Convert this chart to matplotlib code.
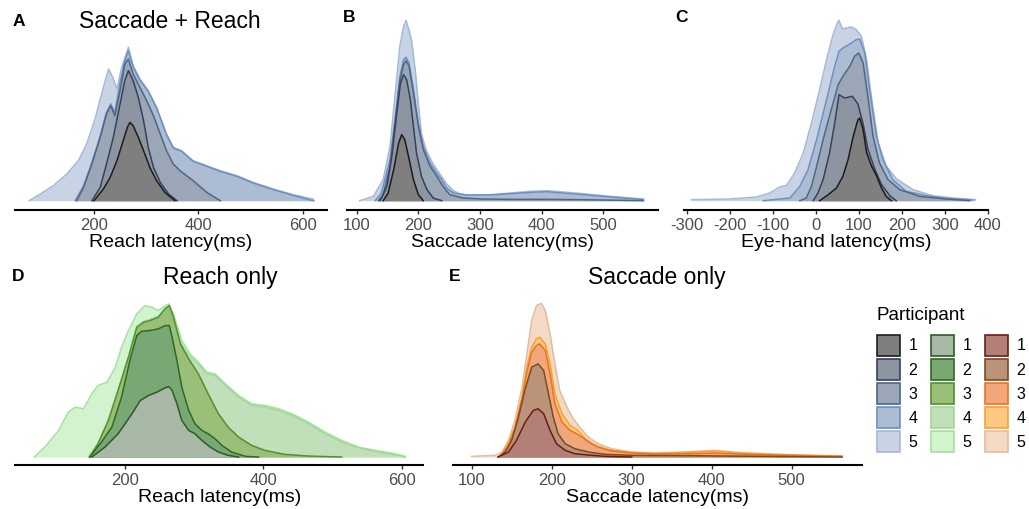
import matplotlib
matplotlib.use('Agg')
import matplotlib.pyplot as plt
from matplotlib.patches import Rectangle

plt.rcParams['font.family'] = ['Liberation Sans', 'DejaVu Sans']
plt.rcParams['axes.unicode_minus'] = False

# stacked density tops per participant (latency in ms, density in arbitrary units)
# --- A: Saccade + Reach, reach latency
A1_MS = [200, 218, 231, 244, 256, 264, 269, 275, 285, 295, 307, 320, 336, 355]
A1_DEN = [0, 0.35, 0.70, 1.20, 1.80, 2.20, 2.35, 2.25, 1.90, 1.50, 1.00, 0.60, 0.25, 0]
A2_MS = [196, 212, 224, 237, 250, 259, 266, 275, 285, 295, 304, 314, 327, 343, 359]
A2_DEN = [0, 0.40, 1.10, 1.90, 2.90, 3.60, 3.90, 3.60, 3.10, 2.40, 1.60, 1.00, 0.55, 0.20, 0]
A3_MS = [167, 180, 196, 212, 224, 232, 240, 250, 259, 266, 275, 288, 301, 314, 327, 339, 352, 365, 390, 416, 442]
A3_DEN = [0, 0.40, 1.10, 1.90, 2.60, 2.85, 2.55, 3.30, 4.10, 4.25, 3.80, 3.40, 3.00, 2.55, 2.00, 1.50, 1.10, 0.90, 0.60, 0.25, 0]
A4_MS = [164, 180, 196, 212, 224, 232, 240, 250, 259, 266, 275, 288, 304, 320, 339, 352, 368, 390, 416, 442, 474, 505, 544, 582, 620]
A4_DEN = [0, 0.45, 1.15, 1.95, 2.65, 2.90, 2.65, 3.55, 4.20, 4.50, 4.02, 3.62, 3.28, 2.78, 1.98, 1.58, 1.48, 1.18, 1.03, 0.88, 0.73, 0.53, 0.33, 0.16, 0]
A5_MS = [76, 97, 122, 148, 170, 186, 202, 218, 228, 236, 244, 253, 266, 275, 288, 304, 320, 339, 352, 368, 390, 416, 442, 474, 505, 544, 582, 620, 622]
A5_DEN = [0, 0.20, 0.45, 0.80, 1.20, 1.70, 2.45, 3.40, 3.95, 3.70, 3.35, 4.00, 4.60, 4.05, 3.65, 3.30, 2.80, 2.00, 1.60, 1.50, 1.20, 1.05, 0.90, 0.75, 0.55, 0.35, 0.18, 0.05, 0]

# --- B: Saccade + Reach, saccade latency
B1_MS = [143, 151, 160, 168, 173, 178, 184, 192, 200, 208]
B1_DEN = [0, 0.23, 0.93, 1.73, 1.98, 1.83, 1.33, 0.63, 0.18, 0]
B2_MS = [138, 149, 157, 165, 171, 176, 181, 187, 192, 197, 205, 214, 224, 238]
B2_DEN = [0, 0.43, 1.33, 2.63, 3.53, 3.78, 3.63, 3.03, 2.23, 1.43, 0.73, 0.33, 0.08, 0]
B3_MS = [135, 143, 154, 162, 170, 176, 180, 185, 192, 200, 208, 219, 230, 240, 251, 273, 305, 349, 408, 468, 565]
B3_DEN = [0, 0.18, 1.03, 2.30, 3.60, 4.08, 4.20, 4.03, 3.23, 2.23, 1.53, 1.03, 0.73, 0.43, 0.18, 0.08, 0.05, 0.04, 0.04, 0.03, 0]
B4_MS = [130, 140, 154, 162, 170, 176, 180, 185, 192, 200, 208, 219, 230, 238, 246, 257, 278, 316, 349, 381, 408, 435, 468, 500, 532, 565]
B4_DEN = [0, 0.23, 1.23, 2.43, 3.73, 4.23, 4.30, 4.13, 3.33, 2.33, 1.63, 1.13, 0.83, 0.63, 0.38, 0.23, 0.17, 0.17, 0.21, 0.25, 0.27, 0.23, 0.18, 0.13, 0.08, 0.03]
B5_MS = [105, 127, 143, 154, 162, 170, 176, 180, 185, 189, 195, 200, 205, 213, 224, 235, 246, 257, 268, 278, 316, 349, 381, 408, 435, 468, 500, 532, 565]
B5_DEN = [0, 0.13, 0.63, 1.63, 3.13, 4.63, 5.23, 5.41, 5.10, 4.80, 3.90, 2.90, 2.00, 1.50, 1.10, 0.80, 0.50, 0.30, 0.20, 0.18, 0.18, 0.23, 0.28, 0.30, 0.26, 0.21, 0.15, 0.10, 0.05]

# --- C: Saccade + Reach, eye-hand latency
C1_MS = [9, 29, 48, 63, 75, 87, 98, 102, 110, 118, 129, 141, 152, 164, 176]
C1_DEN = [0, 0.18, 0.38, 0.73, 1.23, 1.93, 2.43, 2.48, 2.13, 1.45, 1.05, 0.75, 0.40, 0.12, 0]
C2_MS = [-6, 5, 17, 32, 44, 54, 67, 85, 98, 110, 121, 137, 152, 172, 187]
C2_DEN = [0, 0.23, 0.63, 1.43, 2.33, 3.18, 3.08, 3.13, 2.90, 2.30, 1.55, 0.95, 0.50, 0.15, 0]
C3_MS = [-37, -22, -10, 2, 17, 36, 52, 63, 79, 90, 100, 110, 121, 133, 148, 168, 195, 241, 303, 357]
C3_DEN = [0, 0.08, 0.43, 1.03, 1.83, 2.73, 3.48, 3.73, 4.03, 4.33, 4.43, 4.13, 3.13, 1.93, 1.13, 0.63, 0.33, 0.13, 0.05, 0]
C4_MS = [-122, -60, -37, -18, 2, 25, 44, 54, 63, 79, 94, 102, 114, 125, 141, 156, 179, 210, 257, 303, 365]
C4_DEN = [0, 0.08, 0.43, 0.93, 1.83, 3.03, 4.03, 4.48, 4.58, 4.70, 4.83, 4.85, 4.43, 3.33, 1.93, 1.23, 0.63, 0.28, 0.15, 0.07, 0.02]
C5_MS = [-289, -200, -138, -107, -84, -68, -49, -29, -10, 9, 25, 39, 50, 54, 62, 71, 83, 94, 106, 118, 129, 145, 164, 187, 226, 272, 319, 371]
C5_DEN = [0.03, 0.05, 0.11, 0.23, 0.41, 0.46, 0.83, 1.43, 2.33, 3.33, 4.23, 4.93, 5.33, 5.41, 5.15, 5.18, 5.21, 5.13, 4.93, 4.23, 3.13, 1.73, 1.03, 0.66, 0.33, 0.15, 0.08, 0.03]

# --- D: Reach only
D1_MS = [152, 171, 190, 210, 222, 234, 246, 255, 263, 268, 275, 282, 292, 301, 311, 323, 335, 349, 364]
D1_DEN = [0, 0.30, 0.70, 1.30, 1.70, 1.85, 1.95, 2.05, 2.12, 2.00, 1.60, 1.10, 0.80, 0.70, 0.50, 0.30, 0.15, 0.05, 0]
D2_MS = [149, 166, 181, 195, 207, 217, 224, 236, 248, 258, 264, 268, 275, 282, 292, 301, 311, 320, 330, 340, 354, 374, 393]
D2_DEN = [0, 0.45, 0.90, 1.80, 2.90, 3.65, 3.78, 3.80, 3.85, 3.95, 3.95, 3.60, 2.90, 2.10, 1.40, 1.00, 0.80, 0.70, 0.55, 0.35, 0.15, 0.02, 0]
D3_MS = [149, 161, 176, 190, 205, 217, 227, 236, 248, 258, 264, 270, 280, 292, 306, 320, 335, 349, 364, 383, 402, 431, 465, 513]
D3_DEN = [0, 0.40, 1.10, 2.00, 3.00, 3.90, 4.05, 4.10, 4.20, 4.45, 4.55, 4.20, 3.40, 2.95, 2.50, 1.90, 1.30, 0.90, 0.60, 0.35, 0.20, 0.08, 0.03, 0]
D4_MS = [147, 161, 176, 190, 205, 217, 227, 236, 248, 258, 264, 270, 280, 292, 306, 318, 330, 345, 364, 383, 402, 422, 441, 465, 489, 513, 537, 561, 586, 605]
D4_DEN = [0, 0.42, 1.13, 2.03, 3.03, 3.93, 4.08, 4.13, 4.23, 4.48, 4.55, 4.25, 3.45, 3.05, 2.80, 2.52, 2.45, 2.15, 1.80, 1.55, 1.50, 1.40, 1.25, 1.00, 0.70, 0.45, 0.28, 0.17, 0.08, 0]
D5_MS = [69, 84, 104, 118, 128, 140, 152, 161, 174, 186, 195, 205, 217, 229, 239, 248, 255, 263, 270, 282, 294, 306, 318, 330, 345, 364, 383, 402, 422, 441, 465, 489, 513, 537, 561, 586, 605]
D5_DEN = [0, 0.30, 0.80, 1.35, 1.50, 1.45, 1.90, 2.15, 2.25, 2.70, 3.30, 3.80, 4.30, 4.55, 4.50, 4.40, 4.50, 4.60, 4.30, 3.50, 3.10, 2.85, 2.55, 2.50, 2.20, 1.85, 1.60, 1.55, 1.45, 1.30, 1.05, 0.75, 0.50, 0.30, 0.20, 0.12, 0.02]

# --- E: Saccade only
E1_MS = [133, 146, 156, 167, 177, 183, 190, 198, 206, 217, 229, 246, 267, 300]
E1_DEN = [0, 0.15, 0.50, 1.05, 1.40, 1.45, 1.30, 0.80, 0.40, 0.20, 0.10, 0.06, 0.02, 0]
E2_MS = [133, 142, 150, 158, 167, 175, 183, 190, 196, 202, 208, 217, 229, 246, 267, 300, 371, 563]
E2_DEN = [0, 0.15, 0.50, 1.15, 2.05, 2.70, 2.80, 2.60, 1.90, 1.20, 0.70, 0.40, 0.25, 0.15, 0.08, 0.05, 0.04, 0]
E3_MS = [138, 146, 154, 163, 169, 175, 181, 185, 192, 198, 204, 213, 223, 231, 238, 246, 258, 275, 300, 329, 371, 404, 433, 475, 517, 563]
E3_DEN = [0.08, 0.35, 0.85, 1.75, 2.55, 3.15, 3.35, 3.40, 3.20, 2.50, 1.60, 1.05, 0.80, 0.70, 0.60, 0.45, 0.30, 0.18, 0.12, 0.09, 0.10, 0.12, 0.09, 0.06, 0.04, 0.02]
E4_MS = [138, 146, 154, 163, 169, 175, 181, 185, 192, 198, 204, 213, 223, 233, 242, 254, 271, 300, 329, 371, 404, 433, 475, 517, 563]
E4_DEN = [0.10, 0.42, 0.90, 1.80, 2.70, 3.30, 3.55, 3.60, 3.40, 2.80, 1.90, 1.30, 0.95, 0.80, 0.55, 0.35, 0.22, 0.14, 0.11, 0.14, 0.18, 0.12, 0.08, 0.05, 0.02]
E5_MS = [100, 129, 138, 146, 154, 163, 169, 175, 181, 187, 192, 198, 204, 210, 219, 227, 235, 246, 258, 275, 300, 329, 371, 404, 433, 475, 517, 563]
E5_DEN = [0.02, 0.05, 0.15, 0.50, 1.10, 2.10, 3.10, 4.10, 4.55, 4.62, 4.40, 3.70, 2.80, 2.00, 1.50, 1.15, 0.90, 0.60, 0.40, 0.25, 0.15, 0.12, 0.16, 0.20, 0.14, 0.09, 0.06, 0.03]

PARTICIPANTS = ['1', '2', '3', '4', '5']

BLUE_FILL = ['#7f7f7f', '#8d95a2', '#9ba6b6', '#acbcd3', '#c8d3e4']
BLUE_EDGE = ['#1c1c1c', '#34425a', '#4f6686', '#6f8fc0', '#a5b8d8']
GREEN_FILL = ['#a7b8a4', '#79a874', '#9bbe79', '#c1e0ba', '#d3f3ce']
GREEN_EDGE = ['#2f5a2a', '#2d6b1f', '#4f9130', '#a6d69d', '#a2e39a']
ORANGE_FILL = ['#b38078', '#bb9379', '#f1a77c', '#fcc882', '#f2dac6']
ORANGE_EDGE = ['#6e1c12', '#7d4a22', '#ea7420', '#f8a232', '#e8bb98']

W, H = 1029, 510
fig = plt.figure(figsize=(W / 100, H / 100), dpi=100)


def px_axes(left, top, right, bottom):
    return fig.add_axes([left / W, 1 - bottom / H, (right - left) / W, (bottom - top) / H])


def draw_panel(ax, curves, fills, edges, xlim, ylim, ticks, xlabel):
    # outermost (cumulative) first, inner ones painted on top
    for i in range(len(curves) - 1, -1, -1):
        xs, ys = curves[i]
        ax.fill_between(xs, 0, ys, color=fills[i], lw=0)
        ax.plot(xs, ys, color=edges[i], lw=1.1)
    ax.set_xlim(*xlim)
    ax.set_ylim(*ylim)
    ax.set_xticks(ticks)
    ax.set_yticks([])
    for s in ['left', 'right', 'top']:
        ax.spines[s].set_visible(False)
    ax.spines['bottom'].set_linewidth(1.5)
    ax.spines['bottom'].set_color('black')
    ax.tick_params(axis='x', length=3, width=1, color='#333333', labelsize=12,
                   labelcolor='#4d4d4d', pad=2)
    ax.set_xlabel(xlabel, fontsize=14, labelpad=1)
    ax.patch.set_alpha(0)


TOP_YLIM = (-0.27, 5.675)
BOT_YLIM = (-0.23, 4.83)

ax_a = px_axes(15, 12.5, 327, 210.7)
draw_panel(ax_a, [(A1_MS, A1_DEN), (A2_MS, A2_DEN), (A3_MS, A3_DEN), (A4_MS, A4_DEN), (A5_MS, A5_DEN)],
           BLUE_FILL, BLUE_EDGE, (48.6, 646.6), TOP_YLIM, [200, 400, 600], 'Reach latency(ms)')

ax_b = px_axes(346.7, 12.5, 658.3, 210.7)
draw_panel(ax_b, [(B1_MS, B1_DEN), (B2_MS, B2_DEN), (B3_MS, B3_DEN), (B4_MS, B4_DEN), (B5_MS, B5_DEN)],
           BLUE_FILL, BLUE_EDGE, (83.8, 589), TOP_YLIM, [100, 200, 300, 400, 500], 'Saccade latency(ms)')

ax_c = px_axes(684, 12.5, 988, 210.7)
draw_panel(ax_c, [(C1_MS, C1_DEN), (C2_MS, C2_DEN), (C3_MS, C3_DEN), (C4_MS, C4_DEN), (C5_MS, C5_DEN)],
           BLUE_FILL, BLUE_EDGE, (-306, 399), TOP_YLIM, [-300, -200, -100, 0, 100, 200, 300, 400],
           'Eye-hand latency(ms)')

ax_d = px_axes(15, 297.3, 423.3, 465.7)
draw_panel(ax_d, [(D1_MS, D1_DEN), (D2_MS, D2_DEN), (D3_MS, D3_DEN), (D4_MS, D4_DEN), (D5_MS, D5_DEN)],
           GREEN_FILL, GREEN_EDGE, (41, 631), BOT_YLIM, [200, 400, 600], 'Reach latency(ms)')

ax_e = px_axes(453.3, 297.3, 862, 465.7)
draw_panel(ax_e, [(E1_MS, E1_DEN), (E2_MS, E2_DEN), (E3_MS, E3_DEN), (E4_MS, E4_DEN), (E5_MS, E5_DEN)],
           ORANGE_FILL, ORANGE_EDGE, (77, 588), BOT_YLIM, [100, 200, 300, 400, 500], 'Saccade latency(ms)')

# titles and panel letters
def fig_text(x, y, s, **kw):
    fig.text(x / W, 1 - y / H, s, va='center', **kw)

fig_text(170, 22, 'Saccade + Reach', ha='center', fontsize=16.5)
fig_text(220, 278, 'Reach only', ha='center', fontsize=16.5)
fig_text(657, 278, 'Saccade only', ha='center', fontsize=16.5)
for letter, x, y in [('A', 13, 21), ('B', 343, 17), ('C', 675, 17), ('D', 12, 277), ('E', 449, 277)]:
    fig_text(x, y, letter, ha='left', fontsize=12.5, fontweight='bold')

# legend drawn by hand: three columns of swatches
leg = fig.add_axes([0, 0, 1, 1])
leg.set_xlim(0, W)
leg.set_ylim(H, 0)
leg.axis('off')
leg.patch.set_alpha(0)
leg.text(877, 316, 'Participant', fontsize=13.5, va='center', ha='left')
columns = [(877, BLUE_FILL, BLUE_EDGE), (931, GREEN_FILL, GREEN_EDGE), (985, ORANGE_FILL, ORANGE_EDGE)]
for x0, fills, edges in columns:
    for k, lab in enumerate(PARTICIPANTS):
        yc = 346 + k * 24.1
        leg.add_patch(Rectangle((x0, yc - 10.5), 22.5, 21, facecolor=fills[k], edgecolor=edges[k], lw=1.2))
        leg.text(x0 + 36, yc, lab, fontsize=11.5, va='center', ha='center')

fig.savefig('out.png', dpi=100)
